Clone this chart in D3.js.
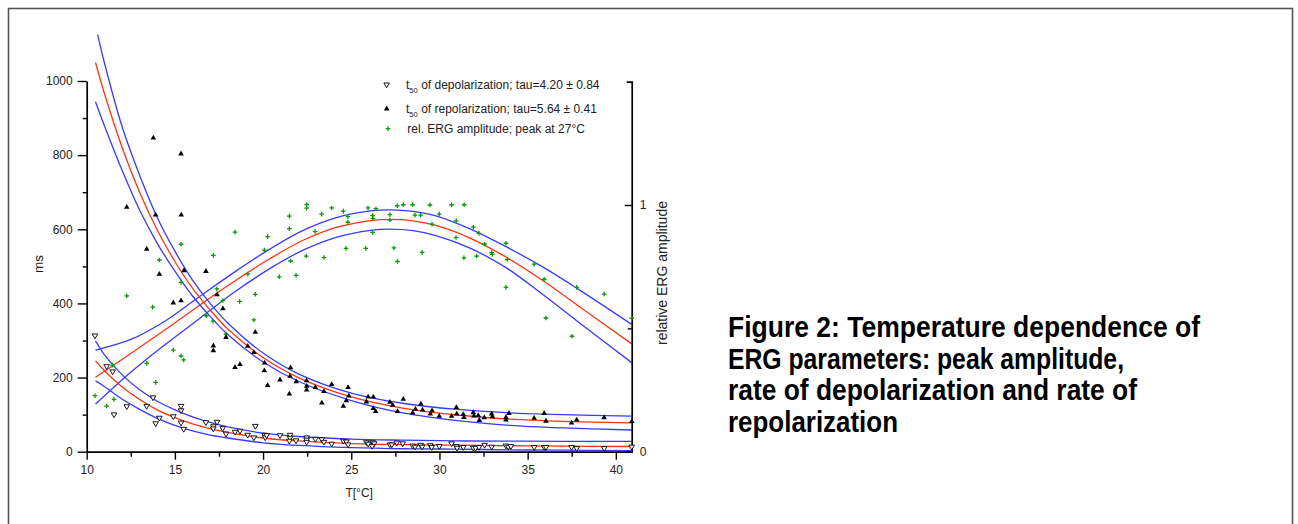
<!DOCTYPE html>
<html>
<head>
<meta charset="utf-8">
<script src="https://cdn.jsdelivr.net/npm/d3@7/dist/d3.min.js"></script>
<style>
  html, body { margin: 0; padding: 0; background: #fff; }
  svg { display: block; font-family: "Liberation Sans", Arial, sans-serif; }
</style>
</head>
<body>
<svg id="chart" width="1298" height="524"></svg>
<script>
// ---------------- DATA ----------------
// t50 of depolarization (ms) vs temperature (°C)
const depT  = [10.47,11.13,11.47,11.55,12.27,13.40,13.76,13.91,14.12,14.91,15.35,15.35,15.35,15.50,16.76,17.18,17.18,17.39,17.71,17.90,18.41,18.69,19.13,19.48,19.56,20.09,20.12,20.20,20.96,21.53,21.53,21.49,21.87,22.47,22.47,22.47,22.96,23.33,23.45,23.89,24.55,24.72,24.82,25.86,25.96,26.21,26.30,26.18,27.19,27.30,27.58,27.92,28.48,28.61,28.93,29.02,29.48,29.56,29.99,30.69,30.96,31.00,31.35,31.92,32.05,32.24,32.56,32.96,33.77,33.90,34.05,35.37,35.94,36.04,37.49,37.78,39.34,40.90];
const depMs = [312,229,215,99,121,122,145,75,90,94,122,110,77,60,78,67,61,79,62,47,52,55,44,37,68,44,37,43,43,44,36,28,29,37,31,25,33,32,25,20,28,26,18,24,20,24,21,14,18,18,23,21,15,12,17,12,16,11,13.5,21,13.5,9,11,9,9,11,17,12,15,12,13.5,11,11,11,11,8,8,12];

// t50 of repolarization (ms)
const repT  = [12.27,13.40,13.78,13.91,14.12,14.91,15.35,15.36,15.35,15.52,16.76,17.18,17.18,17.39,17.72,17.90,18.41,18.69,19.13,19.48,19.56,20.09,20.07,20.26,20.96,21.49,21.53,21.56,21.88,22.47,22.47,22.47,22.96,23.33,23.45,23.89,24.55,24.72,24.82,24.86,25.86,25.96,26.25,26.25,26.38,27.19,27.35,27.62,27.95,28.48,28.64,28.95,29.04,29.48,29.58,29.99,30.69,30.96,30.98,31.35,31.39,31.92,31.96,32.20,32.26,32.54,32.96,33.00,33.77,33.77,33.94,35.37,35.94,36.04,37.49,37.78,39.34,40.90];
const repMs = [661,548,848,640,480,403,805,640,409,490,488,287,274,425,387,310,229,237,286,269,324,241,220,180,195,157,205,228,190,193,178,168,175,133,164,183,124,139,175,152,136,149,149,118,110,135,127,110,143,106,116,130,114,103,112,97,97,121,103,102,94,107,98,99,86,93,103,96,94,87,105,92,105,84,79,87,93,83];

// relative ERG amplitude (right axis)
const ampT   = [10.47,11.13,11.47,11.55,12.27,13.40,13.74,13.91,14.12,14.91,15.35,15.35,15.35,15.50,16.78,17.16,17.18,17.38,17.72,17.90,18.41,18.67,19.14,19.48,19.56,20.07,20.26,20.92,21.49,21.49,21.56,21.87,22.45,22.47,22.47,22.95,23.32,23.45,23.89,24.55,24.70,24.81,24.81,25.82,25.95,26.21,26.23,26.21,26.40,27.19,27.19,27.42,27.61,27.62,27.95,28.48,28.61,28.93,29.02,29.46,29.58,29.99,30.69,30.95,30.94,31.40,31.39,31.92,32.11,32.24,32.56,32.96,33.00,33.77,33.85,33.77,35.37,35.94,36.04,37.51,37.78,39.34,40.90];
const ampRel = [0.227,0.185,0.351,0.212,0.632,0.358,0.586,0.281,0.777,0.412,0.841,0.686,0.388,0.372,0.551,0.529,0.796,0.660,0.613,0.477,0.890,0.609,0.720,0.534,0.638,0.817,0.872,0.709,0.955,0.904,0.773,0.715,0.793,1.002,0.987,0.892,0.963,0.787,0.988,0.975,0.824,0.953,0.930,0.824,0.988,0.957,0.945,0.889,0.985,0.961,0.939,0.826,0.997,0.771,1.001,1.001,0.959,0.959,0.808,1.000,0.922,0.963,1.001,0.936,0.868,1.001,0.786,0.910,0.793,0.885,0.842,0.807,0.800,0.845,0.779,0.666,0.760,0.699,0.542,0.468,0.666,0.639,0.541];

// fitted curves and confidence bands
const bandT    = [10.5,11,12,13,14,15,16,17,18,20,22,25,28,31,34,37,40.9];
const repFit   = [1050,967,822,700,598,513,441,382,331,254,200,148,117,99,88,82,77.5];
const repUpT   = [10.62,11,12,13,14,15,16,17,18,20,22,25,28,31,34,37,40.9];
const repUpper = [1125,1050,878,746,632,541,463,400,347,266,210,158,130,114,105,100,96];
const repLower = [944,880,760,652,562,487,420,365,316,242,190,138,104,84,71,64,58.5];
const depFit   = [245,219,175,141,113,92,75,62,52,37,29,22,19,17.5,16,15,14];
const depUpper = [299,262,208,167,136,113,94,79,67,50,41,34,31,29,28.5,28,28];
const depLower = [191,176,142,114,90,71,56,45,37,24,17,11,8,7,5,4,3];

const ampCurveT = [10.5,12.5,14.5,16.4,18.4,20.4,22.3,24.2,26.1,27.2,28.5,29.8,31.7,33.8,35.9,37.8,40.9];
const ampFit    = [0.302,0.398,0.497,0.594,0.692,0.783,0.858,0.910,0.937,0.942,0.936,0.917,0.867,0.788,0.692,0.595,0.437];
const ampUpper  = [0.412,0.455,0.532,0.629,0.729,0.822,0.898,0.950,0.976,0.980,0.974,0.956,0.904,0.830,0.747,0.662,0.516];
const ampLower  = [0.193,0.322,0.437,0.540,0.648,0.743,0.818,0.870,0.897,0.902,0.896,0.876,0.826,0.745,0.635,0.530,0.361];

// ticks and labels
const xMajor  = [10,15,20,25,30,35,40];
const xMinor  = [12.5,17.5,22.5,27.5,32.5,37.5];
const msMajor = [0,200,400,600,800,1000];
const msMinor = [100,300,500,700,900];
const relMajor = [0,1];
const relMinor = [0.5];
const legendLabels = [
  {sub: true,  main: " of depolarization; tau=4.20 \u00b1 0.84"},
  {sub: true,  main: " of repolarization; tau=5.64 \u00b1 0.41"},
  {sub: false, main: "rel. ERG amplitude; peak at 27\u00b0C"}
];
const captionLines = [
  "Figure 2: Temperature dependence of",
  "ERG parameters: peak amplitude,",
  "rate of depolarization and rate of",
  "repolarization"
];

// ---------------- DRAW ----------------
const svg = d3.select("#chart");
const RED = "#ff3311", BLUE = "#3a3aff", GREEN = "#0a9a0a";

// frame
svg.append("rect").attr("x", 8.5).attr("y", 8.5).attr("width", 1284).attr("height", 540)
  .attr("fill", "#fff").attr("stroke", "#555").attr("stroke-width", 1.6);

const x  = d3.scaleLinear().domain([10, 40.9]).range([86.7, 631.7]);
const yL = d3.scaleLinear().domain([0, 1000]).range([451.7, 81]);
const yR = d3.scaleLinear().domain([0, 1.5]).range([451.7, 81.65]);

// curves
const curve = d3.curveCatmullRom.alpha(0.5);
function drawCurve(ts, vs, yScale, color) {
  const pts = ts.map((t, i) => [t, vs[i]]);
  svg.append("path").datum(pts)
    .attr("fill", "none").attr("stroke", color).attr("stroke-width", 1.3)
    .attr("d", d3.line().x(d => x(d[0])).y(d => yScale(d[1])).curve(curve));
}
drawCurve(ampCurveT, ampUpper, yR, BLUE);
drawCurve(ampCurveT, ampLower, yR, BLUE);
drawCurve(ampCurveT, ampFit, yR, RED);
drawCurve(repUpT, repUpper, yL, BLUE);
drawCurve(bandT, repLower, yL, BLUE);
drawCurve(bandT, repFit, yL, RED);
drawCurve(bandT, depUpper, yL, BLUE);
drawCurve(bandT, depLower, yL, BLUE);
drawCurve(bandT, depFit, yL, RED);

// axes
function styleAxis(g) {
  g.select(".domain").attr("stroke", "#000").attr("stroke-width", 1.7);
  g.selectAll(".tick line").attr("stroke", "#000").attr("stroke-width", 1.4);
  g.selectAll(".tick text").attr("font-size", 12).attr("fill", "#222")
    .attr("font-family", "'Liberation Sans', Arial, sans-serif");
}
const gL = svg.append("g").attr("transform", `translate(${x.range()[0]},0)`);
gL.call(d3.axisLeft(yL).tickValues(msMajor).tickSize(9).tickSizeOuter(0).tickPadding(5).tickFormat(d3.format("d")));
styleAxis(gL);
const gLm = svg.append("g").attr("transform", `translate(${x.range()[0]},0)`);
gLm.call(d3.axisLeft(yL).tickValues(msMinor).tickSize(4).tickSizeOuter(0).tickFormat(""));
gLm.select(".domain").remove(); styleAxis(gLm);

const gB = svg.append("g").attr("transform", `translate(0,${yL.range()[0]})`);
gB.call(d3.axisBottom(x).tickValues(xMajor).tickSize(8).tickSizeOuter(0).tickPadding(5.3).tickFormat(d3.format("d")));
styleAxis(gB);
const gBm = svg.append("g").attr("transform", `translate(0,${yL.range()[0]})`);
gBm.call(d3.axisBottom(x).tickValues(xMinor).tickSize(5).tickSizeOuter(0).tickFormat(""));
gBm.select(".domain").remove(); styleAxis(gBm);

const gR = svg.append("g").attr("transform", `translate(${x.range()[1]},0)`);
gR.call(d3.axisRight(yR).tickValues(relMajor).tickSizeInner(-7).tickSizeOuter(-5).tickPadding(8).tickFormat(d3.format("d")));
styleAxis(gR);
const gRm = svg.append("g").attr("transform", `translate(${x.range()[1]},0)`);
gRm.call(d3.axisRight(yR).tickValues(relMinor).tickSize(-4).tickFormat(""));
gRm.select(".domain").remove(); styleAxis(gRm);

// axis titles
svg.append("text").attr("transform", "translate(43,264) rotate(-90)")
  .attr("text-anchor", "middle").attr("font-size", 13.5).attr("fill", "#222").text("ms");
svg.append("text").attr("transform", "translate(667,345) rotate(-90)")
  .attr("text-anchor", "start").attr("font-size", 14).attr("fill", "#222").text("relative ERG amplitude");
svg.append("text").attr("x", (x.range()[0] + x.range()[1]) / 2).attr("y", 497)
  .attr("text-anchor", "middle").attr("font-size", 12).attr("fill", "#222").text("T[\u00b0C]");

// markers
const triUp   = "M0,-2.7L2.8,2.1L-2.8,2.1Z";
const triDown = "M-2.8,-2.1L2.8,-2.1L0,2.7Z";
const plus    = "M-2.3,0H2.3M0,-2.3V2.3";

svg.append("g").selectAll("path").data(ampT.map((t, i) => [t, ampRel[i]])).join("path")
  .attr("transform", d => `translate(${x(d[0])},${yR(d[1])})`)
  .attr("d", plus).attr("stroke", GREEN).attr("stroke-width", 1.3).attr("fill", "none");
svg.append("g").selectAll("path").data(repT.map((t, i) => [t, repMs[i]])).join("path")
  .attr("transform", d => `translate(${x(d[0])},${yL(d[1])})`)
  .attr("d", triUp).attr("fill", "#000");
svg.append("g").selectAll("path").data(depT.map((t, i) => [t, depMs[i]])).join("path")
  .attr("transform", d => `translate(${x(d[0])},${yL(d[1])})`)
  .attr("d", triDown).attr("fill", "#fff").attr("stroke", "#000").attr("stroke-width", 0.9);

// legend
const legY = [89.3, 112.5, 132.8];
const legSym = [
  {d: triDown, fill: "#fff", stroke: "#000", sw: 0.9},
  {d: triUp, fill: "#000", stroke: "none", sw: 0},
  {d: plus, fill: "none", stroke: GREEN, sw: 1.3}
];
legendLabels.forEach((L, i) => {
  const s = legSym[i];
  svg.append("path").attr("transform", `translate(${i === 2 ? 388 : 386.7},${legY[i] - 4.2})`)
    .attr("d", s.d).attr("fill", s.fill).attr("stroke", s.stroke).attr("stroke-width", s.sw);
  const t = svg.append("text").attr("x", L.sub ? 406 : 407.3).attr("y", legY[i])
    .attr("font-size", 12).attr("fill", "#222");
  if (L.sub) {
    t.append("tspan").text("t");
    t.append("tspan").attr("font-size", 7.6).attr("dy", 4).text("50");
    t.append("tspan").attr("dy", -4).text(L.main);
  } else {
    t.text(L.main);
  }
});

// caption
const capY = [337, 368.5, 400, 431.5];
const capW = [472, 396, 409, 170];
captionLines.forEach((line, i) => {
  svg.append("text").attr("x", 728).attr("y", capY[i])
    .attr("font-size", 29).attr("font-weight", "bold").attr("fill", "#000")
    .attr("textLength", capW[i]).attr("lengthAdjust", "spacingAndGlyphs")
    .text(line);
});
</script>
</body>
</html>
